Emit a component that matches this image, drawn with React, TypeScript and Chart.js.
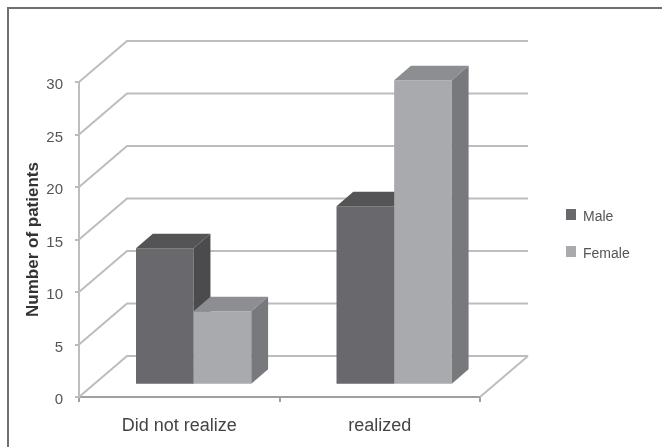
import React, { useEffect, useRef } from "react";
import { Chart, registerables } from "chart.js";

Chart.register(...registerables);

// ---- data ----
const categories = ["Did not realize", "realized"];
const seriesNames = ["Male", "Female"];
const maleValues = [13, 17];
const femaleValues = [7, 29];
const yTickValues = [0, 5, 10, 15, 20, 25, 30];
const yAxisTitle = "Number of patients";

// ---- style ----
const FRONT_COLORS = ["#69696d", "#a8aaad"];
const TOP_COLORS = ["#545457", "#8c8e91"];
const SIDE_COLORS = ["#4b4b4e", "#78797c"];
const GRID_COLOR = "#bdbdbd";
const FONT = "'Liberation Sans', Arial, sans-serif";
const DEPTH = { x: 48, y: -41 };
const BAR_OFFSET = 0.3;
const BAR_DEPTH = 0.35;

const threeDPlugin = {
  id: "threeD",
  beforeDraw(chart: any) {
    const { ctx, width, height } = chart;
    ctx.save();
    ctx.fillStyle = "#ffffff";
    ctx.fillRect(0, 0, width, height);
    ctx.strokeStyle = "#707070";
    ctx.lineWidth = 2;
    ctx.beginPath();
    ctx.moveTo(8, height);
    ctx.lineTo(8, 8);
    ctx.lineTo(width, 8);
    ctx.stroke();
    ctx.restore();
  },
  beforeDatasetsDraw(chart: any) {
    const { ctx, chartArea, scales } = chart;
    const ys = scales.y;
    ctx.save();
    ctx.strokeStyle = GRID_COLOR;
    ctx.lineWidth = 2;
    for (const v of yTickValues) {
      const py = ys.getPixelForValue(v);
      ctx.beginPath();
      ctx.moveTo(chartArea.left, py);
      ctx.lineTo(chartArea.left + DEPTH.x, py + DEPTH.y);
      ctx.lineTo(chartArea.right + DEPTH.x, py + DEPTH.y);
      ctx.stroke();
    }
    const p0 = ys.getPixelForValue(0);
    ctx.beginPath();
    ctx.moveTo(chartArea.right, p0);
    ctx.lineTo(chartArea.right + DEPTH.x, p0 + DEPTH.y);
    ctx.stroke();

    const ox = DEPTH.x * BAR_OFFSET;
    const oy = DEPTH.y * BAR_OFFSET;
    const bx = DEPTH.x * BAR_DEPTH;
    const by = DEPTH.y * BAR_DEPTH;
    ctx.translate(ox, oy);
    const metas = chart.data.datasets.map((_: any, i: number) => chart.getDatasetMeta(i));
    for (let j = 0; j < categories.length; j++) {
      metas.forEach((meta: any, i: number) => {
        const el = meta.data[j];
        if (!el) return;
        const { x, y, base, width } = el.getProps(["x", "y", "base", "width"], true);
        el.draw(ctx, chartArea);
        const L = x - width / 2;
        const R = x + width / 2;
        ctx.fillStyle = SIDE_COLORS[i];
        ctx.beginPath();
        ctx.moveTo(R, y);
        ctx.lineTo(R + bx, y + by);
        ctx.lineTo(R + bx, base + by);
        ctx.lineTo(R, base);
        ctx.closePath();
        ctx.fill();
        ctx.fillStyle = TOP_COLORS[i];
        ctx.beginPath();
        ctx.moveTo(L, y);
        ctx.lineTo(R, y);
        ctx.lineTo(R + bx, y + by);
        ctx.lineTo(L + bx, y + by);
        ctx.closePath();
        ctx.fill();
      });
    }
    ctx.restore();
    return false;
  },
  afterDraw(chart: any) {
    const { ctx } = chart;
    ctx.save();
    ctx.font = `14px ${FONT}`;
    ctx.textBaseline = "middle";
    ctx.textAlign = "left";
    chart.data.datasets.forEach((ds: any, i: number) => {
      const cy = 215 + i * 37;
      ctx.fillStyle = ds.backgroundColor;
      ctx.fillRect(566, cy - 6, 10, 11);
      ctx.fillStyle = "#555555";
      ctx.fillText(ds.label, 583, cy + 2);
    });
    ctx.restore();
  },
};

export default function App() {
  const ref = useRef<HTMLCanvasElement>(null);
  useEffect(() => {
    Chart.defaults.font.family = FONT;
    const chart = new Chart(ref.current as HTMLCanvasElement, {
      type: "bar",
      data: {
        labels: categories,
        datasets: [
          { label: seriesNames[0], data: maleValues, backgroundColor: FRONT_COLORS[0], borderWidth: 0 },
          { label: seriesNames[1], data: femaleValues, backgroundColor: FRONT_COLORS[1], borderWidth: 0 },
        ],
      },
      options: {
        responsive: false,
        animation: false,
        devicePixelRatio: 1,
        layout: { padding: { left: 23, top: 82, right: 182, bottom: 0 } },
        datasets: { bar: { barPercentage: 1, categoryPercentage: 0.575 } },
        plugins: { legend: { display: false }, tooltip: { enabled: false } },
        scales: {
          x: {
            grid: { drawOnChartArea: false, drawTicks: true, tickLength: 5, color: "#a0a0a0", lineWidth: 2 },
            border: { color: "#a0a0a0", width: 2 },
            ticks: { padding: 13, color: "#444", font: { size: 18 }, maxRotation: 0, autoSkip: false },
            afterFit: (s: any) => { s.height = 50; },
          },
          y: {
            min: 0,
            max: 30,
            afterBuildTicks: (s: any) => { s.ticks = yTickValues.map((v) => ({ value: v })); },
            grid: { drawOnChartArea: false, drawTicks: true, tickLength: 4, color: GRID_COLOR, lineWidth: 2 },
            border: { color: GRID_COLOR, width: 2 },
            ticks: { padding: 12, color: "#555", font: { size: 15 }, labelOffset: 3 },
            title: {
              display: true,
              text: yAxisTitle,
              color: "#333",
              font: { size: 17, weight: "bold" },
              padding: { top: 0, bottom: 0 },
            },
            afterFit: (s: any) => { s.width = 56; },
          },
        },
      },
      plugins: [threeDPlugin],
    } as any);
    return () => chart.destroy();
  }, []);
  return (
    <div style={{ position: "fixed", left: 0, top: 0, width: 662, height: 447, background: "#fff" }}>
      <canvas ref={ref} width={662} height={447} style={{ display: "block" }} />
    </div>
  );
}
